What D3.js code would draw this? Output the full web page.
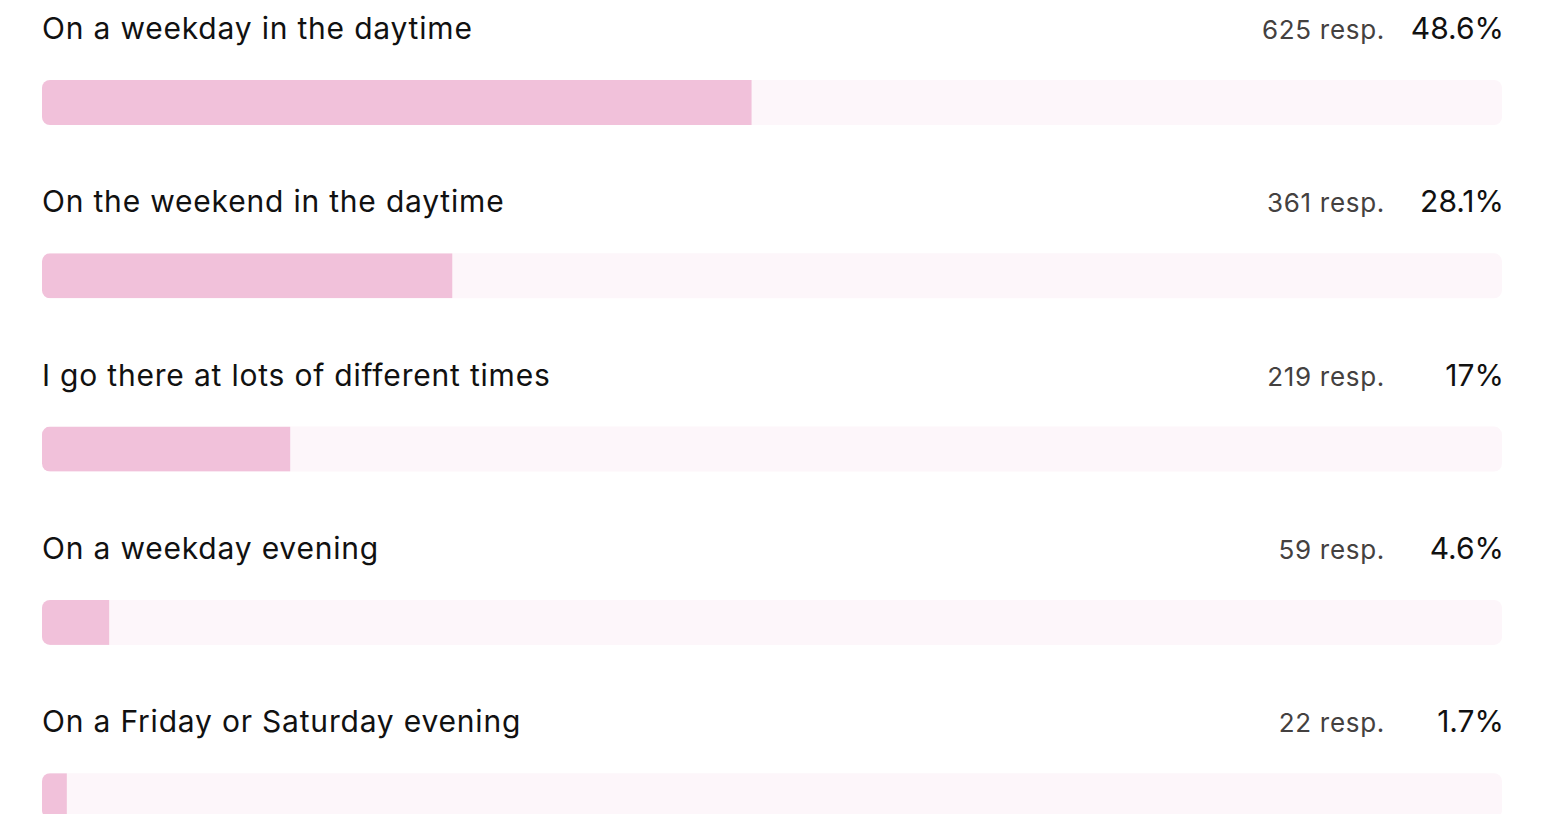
<!DOCTYPE html>
<html>
<head>
<meta charset="utf-8">
<script src="https://cdn.jsdelivr.net/npm/d3@7"></script>
<style>
  html, body { margin: 0; padding: 0; background: #ffffff; }
  svg { display: block; }
  text { font-family: "Inter", "Noto Sans", sans-serif; }
</style>
</head>
<body>
<svg id="chart"></svg>
<script>
// Survey answers: when do people visit
const categories = [
  "On a weekday in the daytime",
  "On the weekend in the daytime",
  "I go there at lots of different times",
  "On a weekday evening",
  "On a Friday or Saturday evening"
];
const responses = [625, 361, 219, 59, 22];
const percents = [48.6, 28.1, 17, 4.6, 1.7];

const width = 1553, height = 814;
const left = 42, right = 1502;
const rowStep = 173.3, barTop = 80, barH = 45, radius = 8;

const svg = d3.select("#chart").attr("width", width).attr("height", height);

const x = d3.scaleLinear().domain([0, 100]).range([left, right]);
const y = d3.scaleBand().domain(categories).range([0, rowStep * categories.length]).padding(0);

const rows = categories.map((c, i) => ({ c, r: responses[i], p: percents[i], i }));

const defs = svg.append("defs");
rows.forEach(d => {
  defs.append("clipPath").attr("id", "clip" + d.i)
    .append("rect")
    .attr("x", x(0)).attr("y", y(d.c) + barTop)
    .attr("width", x(100) - x(0)).attr("height", barH)
    .attr("rx", radius).attr("ry", radius);
});

const g = svg.selectAll("g.row").data(rows).join("g").attr("class", "row");

// track
g.append("rect")
  .attr("x", x(0)).attr("y", d => y(d.c) + barTop)
  .attr("width", x(100) - x(0)).attr("height", barH)
  .attr("rx", radius).attr("ry", radius)
  .attr("fill", "#fdf6fa");

// value bar, clipped to the rounded track
g.append("rect")
  .attr("clip-path", d => `url(#clip${d.i})`)
  .attr("x", x(0)).attr("y", d => y(d.c) + barTop)
  .attr("width", d => x(d.p) - x(0)).attr("height", barH)
  .attr("fill", "#f1c1da");

// category label
g.append("text")
  .attr("x", x(0)).attr("y", d => y(d.c) + 39)
  .attr("font-size", 30).attr("letter-spacing", 0.8).attr("fill", "#111111")
  .text(d => d.c);

// percentage
g.append("text")
  .attr("x", x(100) + 2).attr("y", d => y(d.c) + 39)
  .attr("text-anchor", "end")
  .attr("font-size", 30).attr("fill", "#111111")
  .text(d => d.p + "%");

// response count
g.append("text")
  .attr("x", 1385).attr("y", d => y(d.c) + 39)
  .attr("text-anchor", "end")
  .attr("font-size", 26).attr("letter-spacing", 0.7).attr("fill", "#444140")
  .text(d => d.r + " resp.");
</script>
</body>
</html>
